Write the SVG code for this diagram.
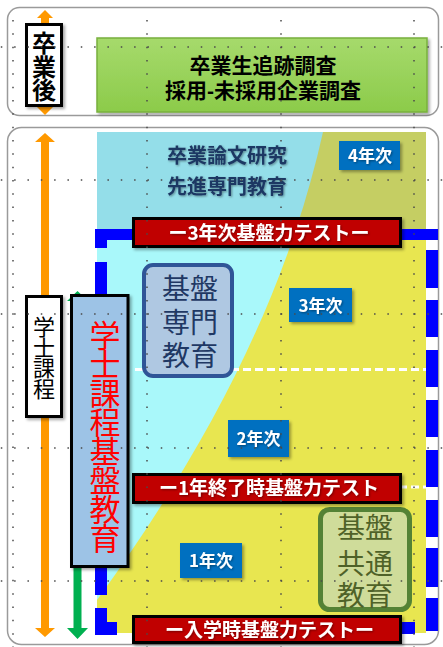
<svg xmlns="http://www.w3.org/2000/svg" xmlns:xlink="http://www.w3.org/1999/xlink" width="443" height="647" viewBox="0 0 443 647">
<style>
.frame{fill:#fff;stroke:#9a9a9a;stroke-width:1.5}
.jp{font-family:"Noto Sans CJK JP","Noto Sans",sans-serif}
.jp2{font-family:"Liberation Sans","Noto Sans CJK JP",sans-serif}
.rbox{fill:#C00000;stroke:#000;stroke-width:3}
.rtxt{fill:#fff;font-size:19px;font-weight:bold;text-anchor:middle}
.badge{fill:#0070C0}
.btxt{fill:#fff;font-size:17px;font-weight:bold;text-anchor:middle}
.blue{fill:#0000FF}
.wdash{stroke:#fff;stroke-width:3;stroke-dasharray:8 4;fill:none}
.grid line{stroke:#4a4a4a;stroke-width:1.5;stroke-dasharray:1.5 11.83}
.lbl{fill:#fff;stroke:#000;stroke-width:3}
.vt{writing-mode:vertical-rl;text-anchor:middle}
</style>
<defs>
<filter id="sh" x="-20%" y="-20%" width="140%" height="150%"><feDropShadow dx="2" dy="2" stdDeviation="1.5" flood-color="#000" flood-opacity="0.35"/></filter>
<filter id="tsh" x="-10%" y="-20%" width="120%" height="140%"><feDropShadow dx="1" dy="1" stdDeviation="1" flood-color="#000" flood-opacity="0.4"/></filter>
<linearGradient id="gg" x1="0" y1="0" x2="0" y2="1"><stop offset="0" stop-color="#A6DA6C"/><stop offset="1" stop-color="#8CCB4A"/></linearGradient>
<path id="cyanp" d="M97 132 L323 132 C290 280 220 430 97 600 Z"/>
<clipPath id="topc"><rect x="97" y="132" width="329" height="99"/></clipPath>
<clipPath id="botc"><rect x="97" y="231" width="329" height="402"/></clipPath>
</defs>

<g id="frames">
<rect class="frame" x="7.5" y="7.5" width="431" height="108" rx="12"/>
<rect class="frame" x="7.5" y="127.5" width="431" height="517" rx="14"/>
</g>

<g id="connectors">
<path d="M45 10 L53 18 L49 18 L49 107 L53 107 L45 115 L37 107 L41 107 L41 18 L37 18 Z" fill="#FF9900"/>
<path d="M45 133 L55 142 L49 142 L49 628 L55 628 L45 637 L35 628 L41 628 L41 142 L35 142 Z" fill="#FF9900"/>
<path d="M77.5 291 L88 301 L81.5 301 L81.5 628 L88 628 L77.5 639 L67 628 L73.5 628 L73.5 301 L67 301 Z" fill="#00B050"/>
</g>

<g id="areas">
<rect x="97" y="132" width="329" height="501" fill="#E8E650"/>
<rect x="97" y="132" width="329" height="99" fill="#C5CE63"/>
<use xlink:href="#cyanp" fill="#94DEE9" clip-path="url(#topc)"/>
<use xlink:href="#cyanp" fill="#A9F8FA" clip-path="url(#botc)"/>
<line class="wdash" x1="135" y1="369.5" x2="426" y2="369.5"/>
<line class="wdash" x1="135" y1="487" x2="426" y2="487"/>
</g>

<g id="bluedash">
<rect class="blue" x="95" y="229" width="45" height="11"/>
<rect class="blue" x="95" y="229" width="12" height="19"/>
<rect class="blue" x="95" y="262" width="12" height="38"/>
<rect class="blue" x="95" y="560" width="12" height="35"/>
<rect class="blue" x="95" y="608" width="12" height="27"/>
<rect class="blue" x="95" y="622" width="22" height="13"/>
<rect class="blue" x="380" y="622" width="35" height="12"/>
<rect class="blue" x="398" y="229" width="40" height="11"/>
<rect class="blue" x="426" y="250" width="12" height="38"/>
<rect class="blue" x="426" y="300" width="12" height="37"/>
<rect class="blue" x="426" y="350" width="12" height="37"/>
<rect class="blue" x="426" y="400" width="12" height="37"/>
<rect class="blue" x="426" y="450" width="12" height="37"/>
<rect class="blue" x="426" y="500" width="12" height="37"/>
<rect class="blue" x="426" y="548" width="12" height="39"/>
<rect class="blue" x="426" y="598" width="12" height="33"/>
</g>

<g id="node-survey">
<rect x="97" y="38" width="330" height="74" fill="url(#gg)" stroke="#78B03C" stroke-width="1.5" filter="url(#sh)"/>
<text class="jp2" font-size="21" font-weight="bold" text-anchor="middle" fill="#000"><tspan x="263" y="73">卒業生追跡調査</tspan><tspan x="263" y="98">採用-未採用企業調査</tspan></text>
</g>

<g id="node-senshin" filter="url(#tsh)">
<text class="jp2" font-size="20" font-weight="bold" text-anchor="middle" fill="#1F3864"><tspan x="227" y="163">卒業論文研究</tspan><tspan x="227" y="194">先進専門教育</tspan></text>
</g>

<g id="node-y4"><rect class="badge" x="339" y="141" width="61" height="29" filter="url(#sh)"/><text class="jp btxt" x="370" y="162" filter="url(#tsh)">4年次</text></g>
<g id="node-y3"><rect class="badge" x="289" y="288" width="63" height="34" filter="url(#sh)"/><text class="jp btxt" x="320.5" y="311.5" filter="url(#tsh)">3年次</text></g>
<g id="node-y2"><rect class="badge" x="228" y="420" width="61" height="37" filter="url(#sh)"/><text class="jp btxt" x="258.5" y="445" filter="url(#tsh)">2年次</text></g>
<g id="node-y1"><rect class="badge" x="180" y="543" width="62" height="35" filter="url(#sh)"/><text class="jp btxt" x="211" y="567" filter="url(#tsh)">1年次</text></g>

<g id="node-senmon">
<rect x="144" y="265" width="88" height="111" rx="9" fill="#AFC8E2" stroke="#2F5597" stroke-width="4"/>
<text class="jp2" font-size="28" text-anchor="middle" fill="#1F3864"><tspan x="190" y="298.5">基盤</tspan><tspan x="190" y="332.5">専門</tspan><tspan x="190" y="365.5">教育</tspan></text>
</g>

<g id="node-kyotsu">
<rect x="320.5" y="509.5" width="89" height="100" rx="9" fill="#CFDC9A" stroke="#548235" stroke-width="5"/>
<text class="jp2" font-size="28" text-anchor="middle" fill="#4F6228"><tspan x="365" y="537.5">基盤</tspan><tspan x="365" y="573.5">共通</tspan><tspan x="365" y="605.5">教育</tspan></text>
</g>

<g id="node-test3"><rect class="rbox" x="133.5" y="218.5" width="267" height="28" filter="url(#sh)"/><text class="jp rtxt" x="269" y="239.5" filter="url(#tsh)">ー3年次基盤力テストー</text></g>
<g id="node-test1"><rect class="rbox" x="133.5" y="474.5" width="267" height="28" filter="url(#sh)"/><text class="jp rtxt" x="269" y="495" filter="url(#tsh)">ー1年終了時基盤力テスト</text></g>
<g id="node-test0"><rect class="rbox" x="133.5" y="616.5" width="267" height="26" filter="url(#sh)"/><text class="jp rtxt" x="269.5" y="636.5" filter="url(#tsh)">ー入学時基盤力テストー</text></g>

<g id="node-sotsugyogo">
<rect class="lbl" x="26.5" y="24.5" width="35" height="81" filter="url(#sh)"/>
<text class="jp vt" x="44" y="66.5" font-size="24" font-weight="bold" letter-spacing="-0.5">卒業後</text>
</g>

<g id="node-gakushi">
<rect class="lbl" x="26.5" y="296.5" width="35" height="120" filter="url(#sh)"/>
<text class="jp vt" x="44" y="357" font-size="22" letter-spacing="-1.3">学士課程</text>
</g>

<g id="node-kiban">
<rect x="71.5" y="295.5" width="56.5" height="271" fill="#9DC3E6" stroke="#000" stroke-width="3" filter="url(#sh)"/>
<text class="jp vt" x="105" y="436" font-size="31" letter-spacing="-2" fill="#FF0000">学士課程基盤教育</text>
</g>

<g class="grid">
<line x1="0.8" y1="47" x2="443" y2="47"/>
<line x1="0.8" y1="180" x2="443" y2="180"/>
<line x1="0.8" y1="314" x2="443" y2="314"/>
<line x1="0.8" y1="448" x2="443" y2="448"/>
<line x1="0.8" y1="581" x2="443" y2="581"/>
<line x1="13" y1="20" x2="13" y2="647"/>
<line x1="147" y1="20" x2="147" y2="647"/>
<line x1="281" y1="20" x2="281" y2="647"/>
<line x1="414" y1="20" x2="414" y2="647"/>
</g>
</svg>
